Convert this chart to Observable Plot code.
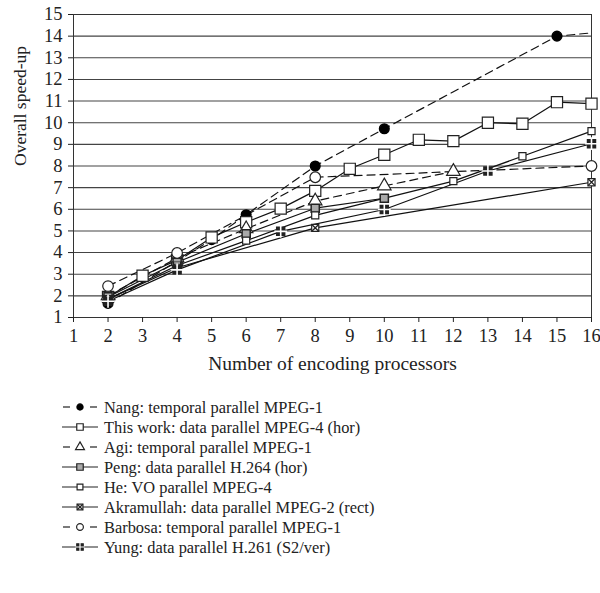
<!DOCTYPE html>
<html><head><meta charset="utf-8">
<script src="https://cdn.jsdelivr.net/npm/d3@7"></script>
<script src="https://cdn.jsdelivr.net/npm/@observablehq/plot@0.6"></script>
<style>body{margin:0;background:#fff;font-family:"Liberation Serif",serif}#chart svg{display:block}</style>
</head><body><div id="chart"></div><script>
// ---- data ----
const xTicks = d3.range(1, 17);
const yTicks = d3.range(1, 16);
const nangX = [2, 4, 5, 6, 8, 10, 15, 16];
const nangY = [1.65, 3.6, 4.6, 5.75, 8.0, 9.72, 14.0, 14.15];
const thisX = [2, 3, 4, 5, 6, 7, 8, 9, 10, 11, 12, 13, 14, 15, 16];
const thisY = [1.95, 2.93, 3.65, 4.7, 5.4, 6.03, 6.85, 7.87, 8.52, 9.21, 9.15, 10.0, 9.95, 10.95, 10.88];
const agiX = [2, 4, 6, 8, 10, 12];
const agiY = [2.0, 3.75, 5.1, 6.38, 7.08, 7.75];
const pengX = [2, 4, 6, 8, 10];
const pengY = [1.95, 3.55, 4.87, 6.05, 6.51];
const heX = [2, 4, 6, 8, 12, 14, 16];
const heY = [1.85, 3.4, 4.55, 5.72, 7.3, 8.45, 9.61];
const akrX = [2, 4, 8, 16];
const akrY = [1.85, 3.3, 5.14, 7.25];
const barX = [2, 4, 8, 16];
const barY = [2.45, 3.98, 7.48, 8.0];
const yungX = [2, 4, 7, 10, 13, 16];
const yungY = [1.75, 3.2, 4.98, 5.99, 7.77, 9.03];
const names = [
  "Nang: temporal parallel MPEG-1",
  "This work: data parallel MPEG-4 (hor)",
  "Agi: temporal parallel MPEG-1",
  "Peng: data parallel H.264 (hor)",
  "He: VO parallel MPEG-4",
  "Akramullah: data parallel MPEG-2 (rect)",
  "Barbosa: temporal parallel MPEG-1",
  "Yung: data parallel H.261 (S2/ver)"
];
const seriesXs = [nangX, thisX, agiX, pengX, heX, akrX, barX, yungX];
const seriesYs = [nangY, thisY, agiY, pengY, heY, akrY, barY, yungY];

// ---- styles ----
const styles = [
  {dash: true,  marker: "nang"},
  {dash: false, marker: "this"},
  {dash: true,  marker: "agi"},
  {dash: false, marker: "peng"},
  {dash: false, marker: "he"},
  {dash: false, marker: "akr"},
  {dash: true,  marker: "bar"},
  {dash: false, marker: "yung"}
];

const rows = names.map((n, k) => seriesXs[k].map((x, i) => ({series: n, k, x, y: seriesYs[k][i]})));

function markerMarks(kind, data) {
  const m = [];
  const o = {x: "x", y: "y"};
  switch (kind) {
    case "nang": m.push(Plot.dot(data.filter(d => d.x <= 15), {...o, symbol: "circle", r: 4.8, fill: "black", stroke: "black"})); break;
    case "this": m.push(Plot.dot(data, {...o, symbol: "square", r: 6.3, fill: "white", stroke: "#222", strokeWidth: 1.2})); break;
    case "agi": m.push(Plot.dot(data, {...o, symbol: "triangle", r: 5, fill: "white", stroke: "#222", strokeWidth: 1.2})); break;
    case "peng": m.push(Plot.dot(data, {...o, symbol: "square", r: 4.6, fill: "#aaa", stroke: "#222", strokeWidth: 1.5})); break;
    case "he": m.push(Plot.dot(data, {...o, symbol: "square", r: 4, fill: "white", stroke: "#222", strokeWidth: 1.2})); break;
    case "akr":
      m.push(Plot.dot(data, {...o, symbol: "square", r: 4, fill: "white", stroke: "#222", strokeWidth: 1.2}));
      m.push(Plot.dot(data, {...o, symbol: "times", r: 3.2, stroke: "#222", strokeWidth: 1.3}));
      break;
    case "bar": m.push(Plot.dot(data, {...o, symbol: "circle", r: 5.3, fill: "white", stroke: "#222", strokeWidth: 1.2})); break;
    case "yung":
      m.push(Plot.dot(data, {...o, symbol: "square", r: 4.5, fill: "#222", stroke: "#222"}));
      m.push(Plot.dot(data, {...o, symbol: "plus", r: 4.2, stroke: "white", strokeWidth: 1.6}));
      break;
  }
  return m;
}

const marks = [
  Plot.gridY(yTicks, {stroke: "#444", strokeOpacity: 1, strokeWidth: 1.1}),
  Plot.frame({stroke: "#333"}),
  Plot.axisX(xTicks, {tickSize: 5, tickPadding: 6, fontSize: 18.5, label: null}),
  Plot.axisY(yTicks, {tickSize: 5, tickPadding: 6, fontSize: 18.5, label: null}),
  Plot.text(["Number of encoding processors"], {frameAnchor: "bottom", dy: 52, fontSize: 19.5, fill: "#222"}),
  Plot.text(["Overall speed-up"], {frameAnchor: "left", rotate: -90, dx: -53, fontSize: 17.5, fill: "#222"})
];
rows.forEach((data, k) => {
  marks.push(Plot.line(data, {x: "x", y: "y", stroke: "#111", strokeWidth: 1.2, strokeDasharray: styles[k].dash ? "8,5" : null}));
});
rows.forEach((data, k) => marks.push(...markerMarks(styles[k].marker, data)));

const chart = Plot.plot({
  width: 600, height: 385,
  marginLeft: 73, marginRight: 9, marginTop: 14, marginBottom: 68,
  x: {domain: [1, 16]},
  y: {domain: [1, 15]},
  style: {fontFamily: "Liberation Serif, serif", fontSize: "18px", color: "#222", background: "white", overflow: "visible"},
  marks
});
document.getElementById("chart").appendChild(chart);

// ---- legend ----
const lg = d3.select("#chart").append("svg").attr("width", 600).attr("height", 208)
  .style("font-family", "Liberation Serif, serif");
const symFor = {
  nang: [{t: d3.symbolCircle, s: 30, fill: "black", stroke: "black"}],
  this: [{t: d3.symbolSquare, s: 42, fill: "white", stroke: "#222"}],
  agi: [{t: d3.symbolTriangle, s: 34, fill: "white", stroke: "#222"}],
  peng: [{t: d3.symbolSquare, s: 42, fill: "#aaa", stroke: "#222"}],
  he: [{t: d3.symbolSquare, s: 34, fill: "white", stroke: "#222"}],
  akr: [{t: d3.symbolSquare, s: 34, fill: "white", stroke: "#222"}, {t: d3.symbolTimes, s: 22, fill: "none", stroke: "#222"}],
  bar: [{t: d3.symbolCircle, s: 36, fill: "white", stroke: "#222"}],
  yung: [{t: d3.symbolSquare, s: 42, fill: "#222", stroke: "#222"}, {t: d3.symbolPlus, s: 30, fill: "none", stroke: "white"}]
};
names.forEach((n, k) => {
  const y = 22 + k * 20;
  const g = lg.append("g");
  if (styles[k].dash) {
    g.append("line").attr("x1", 63).attr("x2", 70).attr("y1", y).attr("y2", y).attr("stroke", "#222").attr("stroke-width", 1.2);
    g.append("line").attr("x1", 90).attr("x2", 97).attr("y1", y).attr("y2", y).attr("stroke", "#222").attr("stroke-width", 1.2);
  } else {
    g.append("line").attr("x1", 62).attr("x2", 98).attr("y1", y).attr("y2", y).attr("stroke", "#222").attr("stroke-width", 1.2);
  }
  symFor[styles[k].marker].forEach(s => {
    g.append("path").attr("d", d3.symbol(s.t, s.s)()).attr("transform", `translate(80,${y})`)
      .attr("fill", s.fill).attr("stroke", s.stroke).attr("stroke-width", 1.2);
  });
  g.append("text").attr("x", 104).attr("y", y).attr("dy", "0.35em").attr("font-size", 16.4).attr("fill", "#222").text(n);
});
</script></body></html>
